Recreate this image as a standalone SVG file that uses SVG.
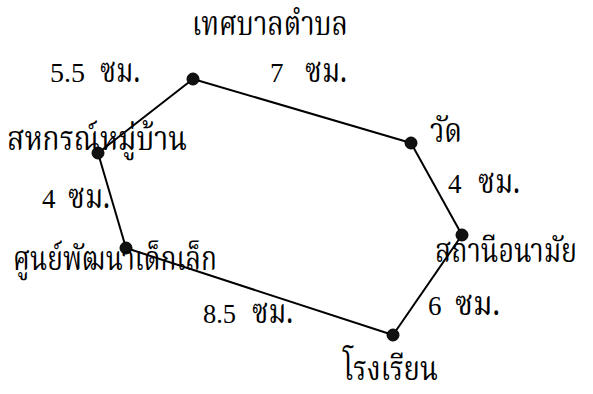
<svg xmlns="http://www.w3.org/2000/svg" width="593" height="394" viewBox="0 0 593 394">
<style>
.bg{fill:#fff}
.edge{stroke:#000;stroke-width:2;fill:none}
.dot{fill:#111;stroke:#000;stroke-width:1}
text{fill:#000}
.th{font-family:"Noto Serif Thai","Noto Sans Thai","Noto Sans",serif;font-size:34px}
.num{font-family:"Liberation Serif","Times New Roman",serif;font-size:27px}
</style>
<rect class="bg" width="593" height="394"/>
<g id="connectors">
<line class="edge" x1="193" y1="79" x2="411" y2="143"/>
<line class="edge" x1="411" y1="143" x2="462" y2="235"/>
<line class="edge" x1="462" y1="235" x2="393" y2="335"/>
<line class="edge" x1="393" y1="335" x2="126" y2="248"/>
<line class="edge" x1="126" y1="248" x2="98" y2="153"/>
<line class="edge" x1="98" y1="153" x2="193" y2="79"/>
</g>
<g id="node-tessaban"><circle class="dot" cx="193" cy="79" r="6"/><text class="th" x="192" y="35" textLength="156" lengthAdjust="spacingAndGlyphs">เทศบาลตำบล</text></g>
<g id="node-wat"><circle class="dot" cx="411" cy="143" r="6"/><text class="th" x="430" y="142" textLength="32" lengthAdjust="spacingAndGlyphs">วัด</text></g>
<g id="node-health"><circle class="dot" cx="462" cy="235" r="6"/><text class="th" x="435" y="262" textLength="142" lengthAdjust="spacingAndGlyphs">สถานีอนามัย</text></g>
<g id="node-school"><circle class="dot" cx="393" cy="335" r="6"/><text class="th" x="343" y="380" textLength="95" lengthAdjust="spacingAndGlyphs">โรงเรียน</text></g>
<g id="node-childcenter"><circle class="dot" cx="126" cy="248" r="6"/><text class="th" x="13" y="270" textLength="204" lengthAdjust="spacingAndGlyphs">ศูนย์พัฒนาเด็กเล็ก</text></g>
<g id="node-coop"><circle class="dot" cx="98" cy="153" r="6"/><text class="th" x="7" y="150" textLength="180" lengthAdjust="spacingAndGlyphs">สหกรณ์หมู่บ้าน</text></g>
<g id="labels">
<text class="num" x="50" y="82" textLength="35" lengthAdjust="spacingAndGlyphs">5.5</text><text class="th" x="100" y="82" textLength="40" lengthAdjust="spacingAndGlyphs">ซม.</text>
<text class="num" x="270" y="82">7</text><text class="th" x="305" y="82" textLength="42" lengthAdjust="spacingAndGlyphs">ซม.</text>
<text class="num" x="448" y="193">4</text><text class="th" x="478" y="193" textLength="42" lengthAdjust="spacingAndGlyphs">ซม.</text>
<text class="num" x="42" y="208">4</text><text class="th" x="68" y="208" textLength="42" lengthAdjust="spacingAndGlyphs">ซม.</text>
<text class="num" x="203" y="323" textLength="33" lengthAdjust="spacingAndGlyphs">8.5</text><text class="th" x="252" y="323" textLength="41" lengthAdjust="spacingAndGlyphs">ซม.</text>
<text class="num" x="428" y="315">6</text><text class="th" x="455" y="315" textLength="45" lengthAdjust="spacingAndGlyphs">ซม.</text>
</g>
</svg>
